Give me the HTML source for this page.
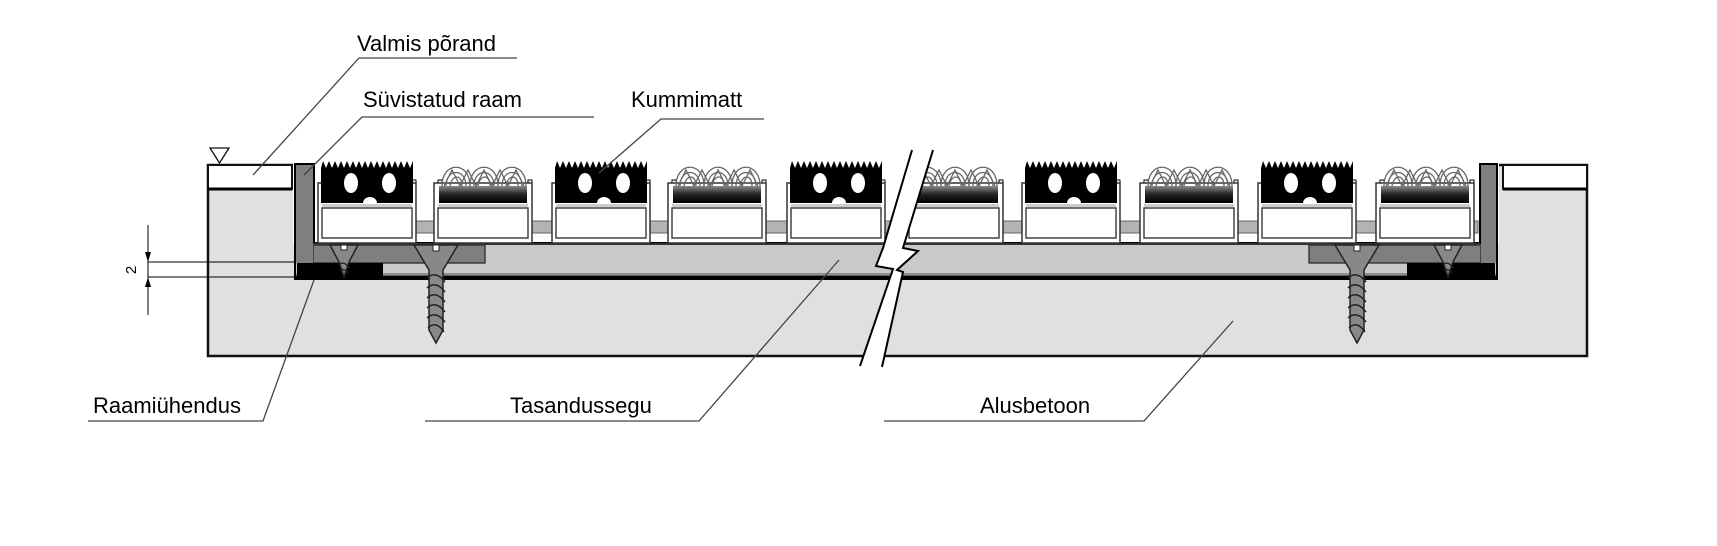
<!DOCTYPE html>
<html><head><meta charset="utf-8"><style>
html,body{margin:0;padding:0;background:#fff;width:1717px;height:546px;overflow:hidden}
svg text{font-family:"Liberation Sans",sans-serif;font-size:22px;fill:#000}
</style></head><body>
<svg width="1717" height="546" viewBox="0 0 1717 546" xmlns="http://www.w3.org/2000/svg">
<defs>
<linearGradient id="bar" x1="0" y1="0" x2="0" y2="1"><stop offset="0" stop-color="#888"/><stop offset="0.5" stop-color="#222"/><stop offset="1" stop-color="#000"/></linearGradient>
<g id="frame">
  <path d="M0,183 h4 v-3 h4 v3 M90,183 h4 v-3 h4 v3" fill="none" stroke="#000" stroke-width="1"/>
  <rect x="0" y="183" width="98" height="60" fill="#fff" stroke="#333" stroke-width="1.5"/>
  <rect x="4" y="208" width="90" height="30" fill="#fff" stroke="#444" stroke-width="1.5"/>
  <rect x="4" y="204" width="90" height="3" fill="#ccc"/>
</g>
<g id="rub">
  <use href="#frame"/>
  <path d="M3,203 V168 L5,161 L8,168 L11,161 L14,168 L17,161 L20,168 L23,161 L26,168 L29,161 L32,168 L35,161 L38,168 L41,161 L44,168 L47,161 L50,168 L53,161 L56,168 L59,161 L62,168 L65,161 L68,168 L71,161 L74,168 L77,161 L80,168 L83,161 L86,168 L89,161 L92,168 L95,161 V203 Z" fill="#000"/>
  <ellipse cx="33" cy="183" rx="7" ry="10" fill="#fff"/>
  <ellipse cx="71" cy="183" rx="7" ry="10" fill="#fff"/>
  <path d="M45,203 a7,6 0 0 1 14,0 Z" fill="#fff"/>
</g>
<g id="br">
  <use href="#frame"/>
  <rect x="5" y="186" width="88" height="17" fill="url(#bar)"/>
  <g fill="none" stroke="#666" stroke-width="1.3">
    <path d="M8,186 c0,-25 28,-25 28,0 M12,186 c0,-18 20,-18 20,0 M16,186 c2,-12 12,-12 12,0"/>
    <path d="M36,186 c0,-25 28,-25 28,0 M40,186 c0,-18 20,-18 20,0 M44,186 c2,-12 12,-12 12,0"/>
    <path d="M64,186 c0,-25 28,-25 28,0 M68,186 c0,-18 20,-18 20,0 M72,186 c2,-12 12,-12 12,0"/>
    <path d="M10,186 l8,-16 l8,16 l8,-16 l8,16 l8,-16 l8,16 l8,-16 l8,16 l8,-16 l8,16"/>
  </g>
</g>
<g id="bigscrew">
  <path d="M-22,245 H22 L7,270 V330 L0,343 L-7,330 V270 Z" fill="#888" stroke="#222" stroke-width="1.5"/>
  <g fill="none" stroke="#222" stroke-width="1.5">
    <path d="M-9,278 Q0,270 9,282 M-9,288 Q0,280 9,292 M-9,298 Q0,290 9,302 M-9,308 Q0,300 9,312 M-9,318 Q0,310 9,322 M-8,328 Q0,320 8,332"/>
  </g>
  <rect x="-3" y="245" width="6" height="6" fill="#fff" stroke="#222" stroke-width="1"/>
</g>
<g id="smallscrew">
  <path d="M-14,245 H14 L5,262 L0,277 L-5,262 Z" fill="#888" stroke="#222" stroke-width="1.5"/>
  <path d="M-5,265 Q0,260 5,268 M-4,271 Q0,267 4,274" fill="none" stroke="#222" stroke-width="1.3"/>
  <rect x="-3" y="245" width="6" height="5" fill="#fff" stroke="#222" stroke-width="1"/>
</g>
</defs>

<!-- base concrete -->
<rect x="208" y="165" width="1379" height="191" fill="#e0e0e0" stroke="#111" stroke-width="2.5"/>
<rect x="293" y="160" width="1206" height="84" fill="#fff"/>
<rect x="208" y="165" width="84" height="24" fill="#fff" stroke="#111" stroke-width="2"/>
<line x1="208" y1="189" x2="292" y2="189" stroke="#000" stroke-width="3"/>
<rect x="1503" y="165" width="84" height="24" fill="#fff" stroke="#111" stroke-width="2"/>
<line x1="1503" y1="189" x2="1587" y2="189" stroke="#000" stroke-width="3"/>
<path d="M210,148 h19 l-9.5,15 z" fill="#fff" stroke="#111" stroke-width="1.3"/>

<!-- leveling -->
<rect x="296" y="245" width="1200" height="33" fill="#c9c9c9"/>
<line x1="296" y1="277" x2="1496" y2="277" stroke="#000" stroke-width="3"/>
<line x1="296" y1="274" x2="1496" y2="274" stroke="#555" stroke-width="1"/>
<!-- plates -->
<rect x="313" y="245" width="172" height="18" fill="#7f7f7f" stroke="#222" stroke-width="1.2"/>
<rect x="297" y="263" width="86" height="14" fill="#000"/>
<rect x="1309" y="245" width="172" height="18" fill="#7f7f7f" stroke="#222" stroke-width="1.2"/>
<rect x="1407" y="263" width="88" height="14" fill="#000"/>
<!-- frame L -->
<path d="M295,164 H314 V243 H1480 V164 H1497 V279 H295 Z" fill="none" stroke="#000" stroke-width="2"/>
<rect x="296" y="165" width="17" height="98" fill="#7f7f7f"/>
<rect x="1481" y="165" width="15" height="98" fill="#7f7f7f"/>
<rect x="314" y="243" width="1166" height="2" fill="#333"/>

<!-- connecting bar -->
<rect x="318" y="221" width="1160" height="12" fill="#b3b3b3" stroke="#666" stroke-width="1"/>

<!-- units -->
<use href="#rub" x="318"/>
<use href="#br" x="434"/>
<use href="#rub" x="552"/>
<use href="#br" x="668"/>
<use href="#rub" x="787"/>
<use href="#br" x="905"/>
<use href="#rub" x="1022"/>
<use href="#br" x="1140"/>
<use href="#rub" x="1258"/>
<use href="#br" x="1376"/>

<!-- screws -->
<use href="#smallscrew" x="344"/>
<use href="#bigscrew" x="436"/>
<use href="#bigscrew" x="1357"/>
<use href="#smallscrew" x="1448"/>

<!-- break -->
<path d="M912,150 L883,248 L876,266 L893,269 L860,366 L882,367 L903,272 L897,270 L918,251 L903,248 L933,150 Z" fill="#fff"/>
<path d="M912,150 L883,248 L876,266 L893,269 L860,366 M933,150 L903,248 L918,251 L897,270 L903,272 L882,367" fill="none" stroke="#000" stroke-width="2"/>

<!-- dimension -->
<g stroke="#000" stroke-width="1">
<line x1="148" y1="225" x2="148" y2="315"/>
<line x1="148" y1="262" x2="296" y2="262"/>
<line x1="148" y1="277" x2="296" y2="277"/>
</g>
<path d="M145,252 L151,252 L148,262 Z M145,287 L151,287 L148,277 Z" fill="#000"/>
<text x="0" y="0" transform="translate(136,270) rotate(-90)" text-anchor="middle" style="font-size:15px">2</text>

<!-- labels -->
<g stroke="#444" stroke-width="1.3" fill="none">
<polyline points="253,175 359,58 517,58"/>
<polyline points="304,175 362,117 594,117"/>
<polyline points="599,173 661,119 764,119"/>
<polyline points="314,280 263,421 88,421"/>
<polyline points="839,260 699,421 425,421"/>
<polyline points="1233,321 1144,421 884,421"/>
</g>
<text x="357" y="51">Valmis põrand</text>
<text x="363" y="107">Süvistatud raam</text>
<text x="631" y="107">Kummimatt</text>
<text x="93" y="413">Raamiühendus</text>
<text x="510" y="413">Tasandussegu</text>
<text x="980" y="413">Alusbetoon</text>
</svg>
</body></html>
